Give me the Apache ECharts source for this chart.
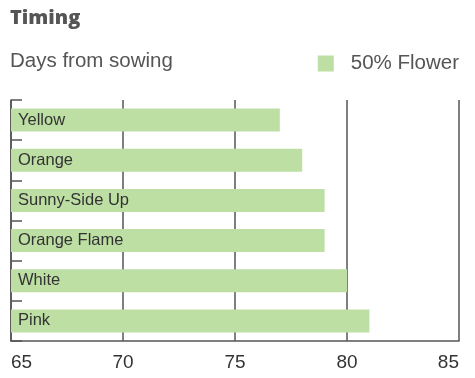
<!DOCTYPE html>
<html><head><meta charset="utf-8">
<script src="https://cdn.jsdelivr.net/npm/echarts@6/dist/echarts.min.js"></script>
<style>html,body{margin:0;padding:0;background:#fff}#c{width:475px;height:378px}</style>
</head><body><div id="c"></div>
<script>
const categories = ["Yellow", "Orange", "Sunny-Side Up", "Orange Flame", "White", "Pink"];
const flowerDays = [77, 78, 79, 79, 80, 81];
const seriesName = "50% Flower";
const axisTitle = "Days from sowing";

const chart = echarts.init(document.getElementById('c'), null, {renderer: 'canvas'});
chart.setOption({
  animation: false,
  title: [{
    text: "Timing", left: 5, top: 3,
    textStyle: {fontFamily: "Open Sans", fontWeight: 800, fontSize: 20, color: "#555"}
  }, {
    text: axisTitle, left: 5, top: 46,
    textStyle: {fontFamily: "Liberation Sans", fontWeight: 'normal', fontSize: 20.5, color: "#555"}
  }],
  legend: {
    right: 11, top: 48, icon: 'rect', itemWidth: 16, itemHeight: 16, itemGap: 10,
    textStyle: {fontFamily: "Liberation Sans", fontSize: 20.5, color: "#555", padding: [0,0,0,12]},
    data: [seriesName]
  },
  grid: {left: 11, right: 16, top: 100, bottom: 37, containLabel: false},
  xAxis: {
    type: 'value', min: 65, max: 85, interval: 5,
    axisLine: {show: true, onZero: false, lineStyle: {color: '#555', width: 1.5}},
    axisTick: {show: false},
    splitLine: {show: true, lineStyle: {color: '#555', width: 1.5}},
    axisLabel: {fontFamily: "Liberation Sans", fontSize: 19, color: '#333', margin: 12,
      alignMinLabel: 'left', alignMaxLabel: 'right'}
  },
  yAxis: {
    type: 'category', data: categories, inverse: true,
    axisLine: {show: true, lineStyle: {color: '#555', width: 1.5}},
    axisTick: {show: true, inside: true, length: 11, lineStyle: {color: '#555', width: 1.5}},
    axisLabel: {show: false}
  },
  series: [{
    name: seriesName, type: 'bar', data: flowerDays, barWidth: 23,
    itemStyle: {color: '#bddfa3'},
    label: {show: true, position: 'insideLeft', distance: 7,
      formatter: p => p.name,
      fontFamily: "Liberation Sans", fontSize: 16.5, color: '#333'}
  }]
});
</script></body></html>
